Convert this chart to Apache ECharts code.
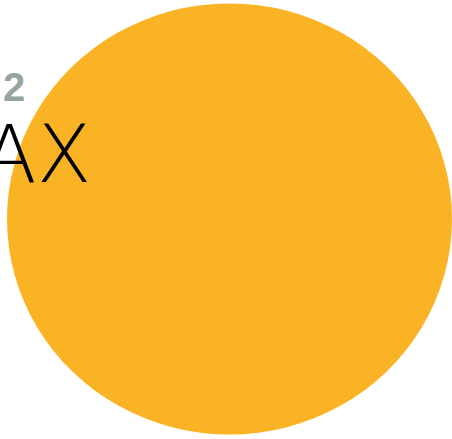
<!DOCTYPE html>
<html>
<head>
<meta charset="utf-8">
<script src="https://cdn.jsdelivr.net/npm/echarts@6/dist/echarts.min.js"></script>
<style>
html,body{margin:0;padding:0;background:#fff;}
#c{width:452px;height:439px;}
</style>
</head>
<body>
<div id="c"></div>
<script>
var labels = ['AX'];
var ranks = ['2'];
var xValues = [0.5];
var yValues = [0.5];

var chart = echarts.init(document.getElementById('c'), null, {renderer: 'svg'});
chart.setOption({
  animation: false,
  grid: {left: 7, right: 0, top: 4, bottom: 5},
  xAxis: {type: 'value', min: 0, max: 1, show: false},
  yAxis: {type: 'value', min: 0, max: 1, show: false},
  graphic: [
    {type: 'text', left: 3, top: 67, z: 10,
     style: {text: ranks[0], fill: '#95a5a0', font: 'bold 40px "Liberation Sans", Arial, sans-serif'}},
    {type: 'text', left: -18, top: 114, z: 10,
     style: {text: labels[0], fill: '#000', font: '200 80px "DejaVu Sans", Lato, sans-serif'}}
  ],
  series: [{
    type: 'scatter',
    symbol: 'circle',
    symbolSize: [445, 431],
    itemStyle: {color: '#fbb326', opacity: 1},
    data: xValues.map(function (x, i) { return [x, yValues[i]]; }),
    z: 1
  }]
});
</script>
</body>
</html>
